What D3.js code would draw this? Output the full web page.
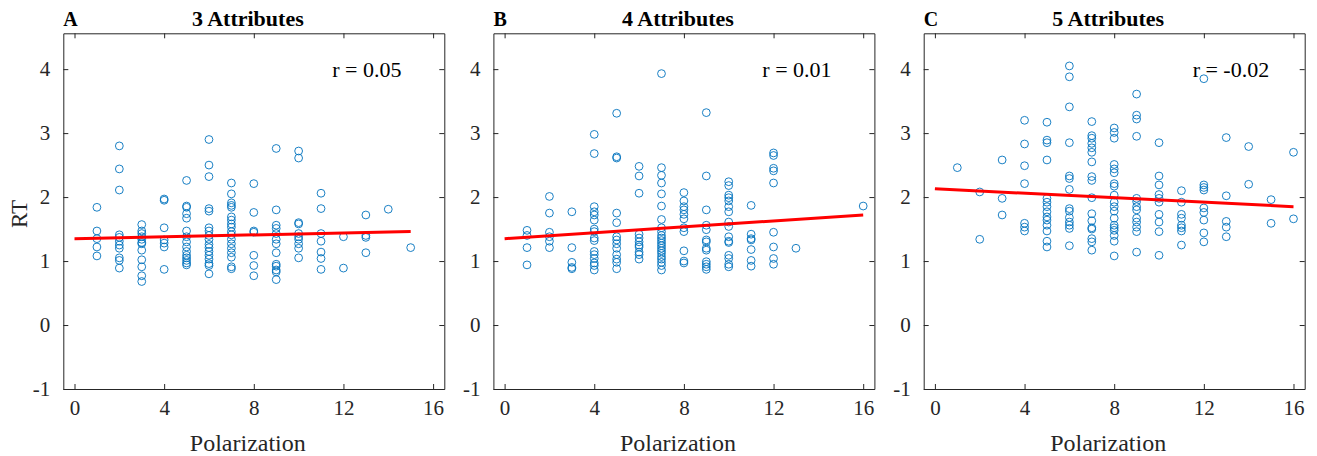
<!DOCTYPE html>
<html>
<head>
<meta charset="utf-8">
<script src="https://cdn.jsdelivr.net/npm/d3@7"></script>
<style>
  body { margin: 0; background: #fff; }
  svg { display: block; }
  svg text { font-family: 'Liberation Serif', 'Times New Roman', Times, serif; }
</style>
</head>
<body>
<div id="root"></div>
<script>
// values, one list of RT values per polarization column
const xTicks = [0, 4, 8, 12, 16];
const yTicks = [-1, 0, 1, 2, 3, 4];
const letters = ["A", "B", "C"];
const titles = ["3 Attributes", "4 Attributes", "5 Attributes"];
const rLabels = ["r = 0.05", "r = 0.01", "r = -0.02"];

const polA = [1, 2, 3, 4, 5, 6, 7, 8, 9, 10, 11, 12, 13, 14, 15];
const rtA = [
  [1.84, 1.47, 1.35, 1.22, 1.08],
  [2.80, 2.44, 2.11, 1.41, 1.37, 1.31, 1.25, 1.20, 1.05, 1.01, 0.89],
  [1.57, 1.47, 1.43, 1.38, 1.34, 1.29, 1.27, 1.17, 1.02, 0.91, 0.77, 0.68],
  [1.97, 1.95, 1.52, 1.33, 1.28, 1.22, 0.87],
  [2.26, 1.86, 1.84, 1.74, 1.67, 1.47, 1.38, 1.30, 1.22, 1.15, 1.09, 1.05, 1.01, 0.97, 0.94],
  [2.90, 2.50, 2.32, 1.82, 1.78, 1.52, 1.47, 1.40, 1.34, 1.26, 1.21, 1.15, 1.09, 1.03, 0.96, 0.93, 0.80],
  [2.22, 2.05, 1.91, 1.87, 1.84, 1.69, 1.64, 1.58, 1.53, 1.46, 1.41, 1.34, 1.27, 1.20, 1.13, 1.06, 0.91, 0.88],
  [2.21, 1.76, 1.47, 1.45, 1.09, 0.93, 0.77],
  [2.76, 1.80, 1.56, 1.51, 1.43, 1.34, 1.27, 1.13, 0.95, 0.92, 0.86, 0.83, 0.71],
  [2.72, 2.61, 1.60, 1.58, 1.43, 1.38, 1.34, 1.27, 1.20, 1.05],
  [2.06, 1.82, 1.43, 1.31, 1.14, 1.04, 0.87],
  [1.38, 0.89],
  [1.72, 1.40, 1.37, 1.13],
  [1.81],
  [1.21]
];

const polB = [1, 2, 3, 4, 5, 6, 7, 8, 9, 10, 11, 12, 13, 16];
const rtB = [
  [1.48, 1.40, 1.21, 0.94],
  [2.01, 1.75, 1.45, 1.38, 1.31, 1.21],
  [1.77, 1.21, 0.98, 0.90, 0.88],
  [2.98, 2.68, 1.85, 1.77, 1.72, 1.64, 1.50, 1.46, 1.36, 1.32, 1.15, 1.10, 1.04, 0.97, 0.93, 0.86],
  [3.31, 2.63, 2.61, 1.75, 1.60, 1.38, 1.33, 1.27, 1.20, 1.10, 1.03, 0.98, 0.88],
  [2.48, 2.33, 2.06, 1.42, 1.36, 1.30, 1.25, 1.22, 1.14, 1.10, 1.03],
  [3.93, 2.46, 2.34, 2.22, 2.05, 1.86, 1.65, 1.52, 1.46, 1.40, 1.36, 1.32, 1.28, 1.24, 1.20, 1.16, 1.12, 1.07, 1.03, 0.98, 0.93, 0.86],
  [2.07, 1.94, 1.85, 1.80, 1.73, 1.66, 1.52, 1.46, 1.16, 1.00, 0.97],
  [3.32, 2.33, 1.80, 1.56, 1.49, 1.33, 1.30, 1.20, 1.17, 0.99, 0.95, 0.91, 0.87],
  [2.24, 2.18, 2.03, 1.99, 1.94, 1.85, 1.77, 1.61, 1.54, 1.38, 1.31, 1.29, 1.09, 1.04, 0.95, 0.91],
  [1.87, 1.42, 1.35, 1.33, 1.18, 1.01, 0.92],
  [2.69, 2.65, 2.45, 2.41, 2.22, 1.45, 1.22, 1.04, 0.95],
  [1.20],
  [1.86]
];

const polC = [1, 2, 3, 4, 5, 6, 7, 8, 9, 10, 11, 12, 13, 14, 15, 16];
const rtC = [
  [2.46],
  [2.08, 1.34],
  [2.58, 1.98, 1.72],
  [3.20, 2.83, 2.49, 2.21, 1.59, 1.53, 1.47],
  [3.17, 2.89, 2.85, 2.58, 1.98, 1.92, 1.85, 1.77, 1.69, 1.64, 1.56, 1.47, 1.31, 1.22],
  [4.05, 3.88, 3.41, 2.85, 2.33, 2.29, 2.12, 1.82, 1.78, 1.68, 1.61, 1.56, 1.51, 1.24],
  [3.18, 2.96, 2.92, 2.84, 2.77, 2.70, 2.55, 2.32, 2.26, 1.99, 1.74, 1.63, 1.52, 1.50, 1.35, 1.30, 1.17],
  [3.08, 3.01, 2.92, 2.51, 2.44, 2.38, 2.21, 2.17, 2.03, 1.92, 1.85, 1.78, 1.67, 1.56, 1.52, 1.48, 1.40, 1.31, 1.08],
  [3.61, 3.28, 3.22, 2.95, 1.98, 1.93, 1.85, 1.80, 1.67, 1.61, 1.53, 1.46, 1.14],
  [2.85, 2.33, 2.19, 2.04, 1.98, 1.92, 1.73, 1.61, 1.46, 1.09],
  [2.10, 1.92, 1.73, 1.67, 1.56, 1.52, 1.47, 1.25],
  [3.85, 2.19, 2.15, 2.11, 1.83, 1.76, 1.64, 1.44, 1.30],
  [2.93, 2.02, 1.62, 1.53, 1.38],
  [2.79, 2.20],
  [1.96, 1.59],
  [2.70, 1.66]
];

// least-squares lines: [x0, x1] and [y0, y1]
const fitX = [[0, 15], [0, 16], [0, 16]];
const fitY = [[1.35, 1.46], [1.35, 1.72], [2.13, 1.85]];

const panels = [
  { pol: polA, rt: rtA },
  { pol: polB, rt: rtB },
  { pol: polC, rt: rtC }
];

const W = 1317, H = 456;
const boxLefts = [63.3, 493.4, 923.7];
const boxW = 381;
const boxTop = 33.3, boxBottom = 389;
const axisCol = "#262626";
const blue = "#0072BD";
const serif = "'Liberation Serif', 'Times New Roman', Times, serif";

const svg = d3.select("#root").append("svg")
  .attr("width", W)
  .attr("height", H);

panels.forEach((p, i) => {
  const left = boxLefts[i];
  const x = d3.scaleLinear().domain([-0.5, 16.5]).range([left, left + boxW]);
  const y = d3.scaleLinear().domain([-1, 4.56]).range([boxBottom, boxTop]);

  const g = svg.append("g");

  // points
  const pts = [];
  p.pol.forEach((px, j) => {
    p.rt[j].forEach(v => pts.push({ x: px, y: v }));
  });
  g.selectAll("circle")
    .data(pts)
    .enter()
    .append("circle")
    .attr("cx", d => x(d.x))
    .attr("cy", d => y(d.y))
    .attr("r", 3.9)
    .attr("fill", "none")
    .attr("stroke", blue)
    .attr("stroke-width", 0.9);

  // fit line
  const line = d3.line().x(d => x(d[0])).y(d => y(d[1]));
  g.append("path")
    .datum([[fitX[i][0], fitY[i][0]], [fitX[i][1], fitY[i][1]]])
    .attr("d", line)
    .attr("stroke", "#ff0000")
    .attr("stroke-width", 3)
    .attr("fill", "none");

  // axes with inward ticks on all sides
  const fmt = d => String(d);
  const bottomAxis = d3.axisBottom(x).tickValues(xTicks).tickFormat(fmt).tickSizeInner(-5).tickSizeOuter(0).tickPadding(11);
  const topAxis = d3.axisTop(x).tickValues(xTicks).tickSizeInner(-5).tickSizeOuter(0).tickFormat("");
  const leftAxis = d3.axisLeft(y).tickValues(yTicks).tickFormat(fmt).tickSizeInner(-5).tickSizeOuter(0).tickPadding(13);
  const rightAxis = d3.axisRight(y).tickValues(yTicks).tickSizeInner(-5).tickSizeOuter(0).tickFormat("");

  const styleAxis = sel => {
    sel.attr("font-family", serif).attr("font-size", 21);
    sel.select(".domain").attr("stroke", axisCol).attr("stroke-width", 1);
    sel.selectAll(".tick line").attr("stroke", axisCol).attr("stroke-width", 1);
    sel.selectAll(".tick text").attr("fill", axisCol);
  };

  g.append("g").attr("transform", "translate(0," + boxBottom + ")").call(bottomAxis).call(styleAxis);
  g.append("g").attr("transform", "translate(0," + boxTop + ")").call(topAxis).call(styleAxis);
  g.append("g").attr("transform", "translate(" + left + ",0)").call(leftAxis).call(styleAxis);
  g.append("g").attr("transform", "translate(" + (left + boxW) + ",0)").call(rightAxis).call(styleAxis);

  // r label
  g.append("text")
    .attr("x", x(11.5))
    .attr("y", y(4) + 8)
    .attr("font-family", serif)
    .attr("font-size", 22)
    .attr("fill", "#000")
    .text(rLabels[i]);

  // titles
  g.append("text")
    .attr("x", left + boxW / 2 - 6)
    .attr("y", 26)
    .attr("text-anchor", "middle")
    .attr("font-family", serif)
    .attr("font-size", 22)
    .attr("font-weight", "bold")
    .attr("fill", "#000")
    .text(titles[i]);

  g.append("text")
    .attr("x", left)
    .attr("y", 26)
    .attr("font-family", serif)
    .attr("font-size", 20)
    .attr("font-weight", "bold")
    .attr("fill", "#000")
    .text(letters[i]);

  // x label
  g.append("text")
    .attr("x", left + boxW / 2 - 6)
    .attr("y", 451)
    .attr("text-anchor", "middle")
    .attr("font-family", serif)
    .attr("font-size", 24)
    .attr("fill", axisCol)
    .text("Polarization");
});

svg.append("text")
  .attr("transform", "translate(27,214) rotate(-90)")
  .attr("text-anchor", "middle")
  .attr("font-family", serif)
  .attr("font-size", 23)
  .attr("fill", axisCol)
  .text("RT");
</script>
</body>
</html>
